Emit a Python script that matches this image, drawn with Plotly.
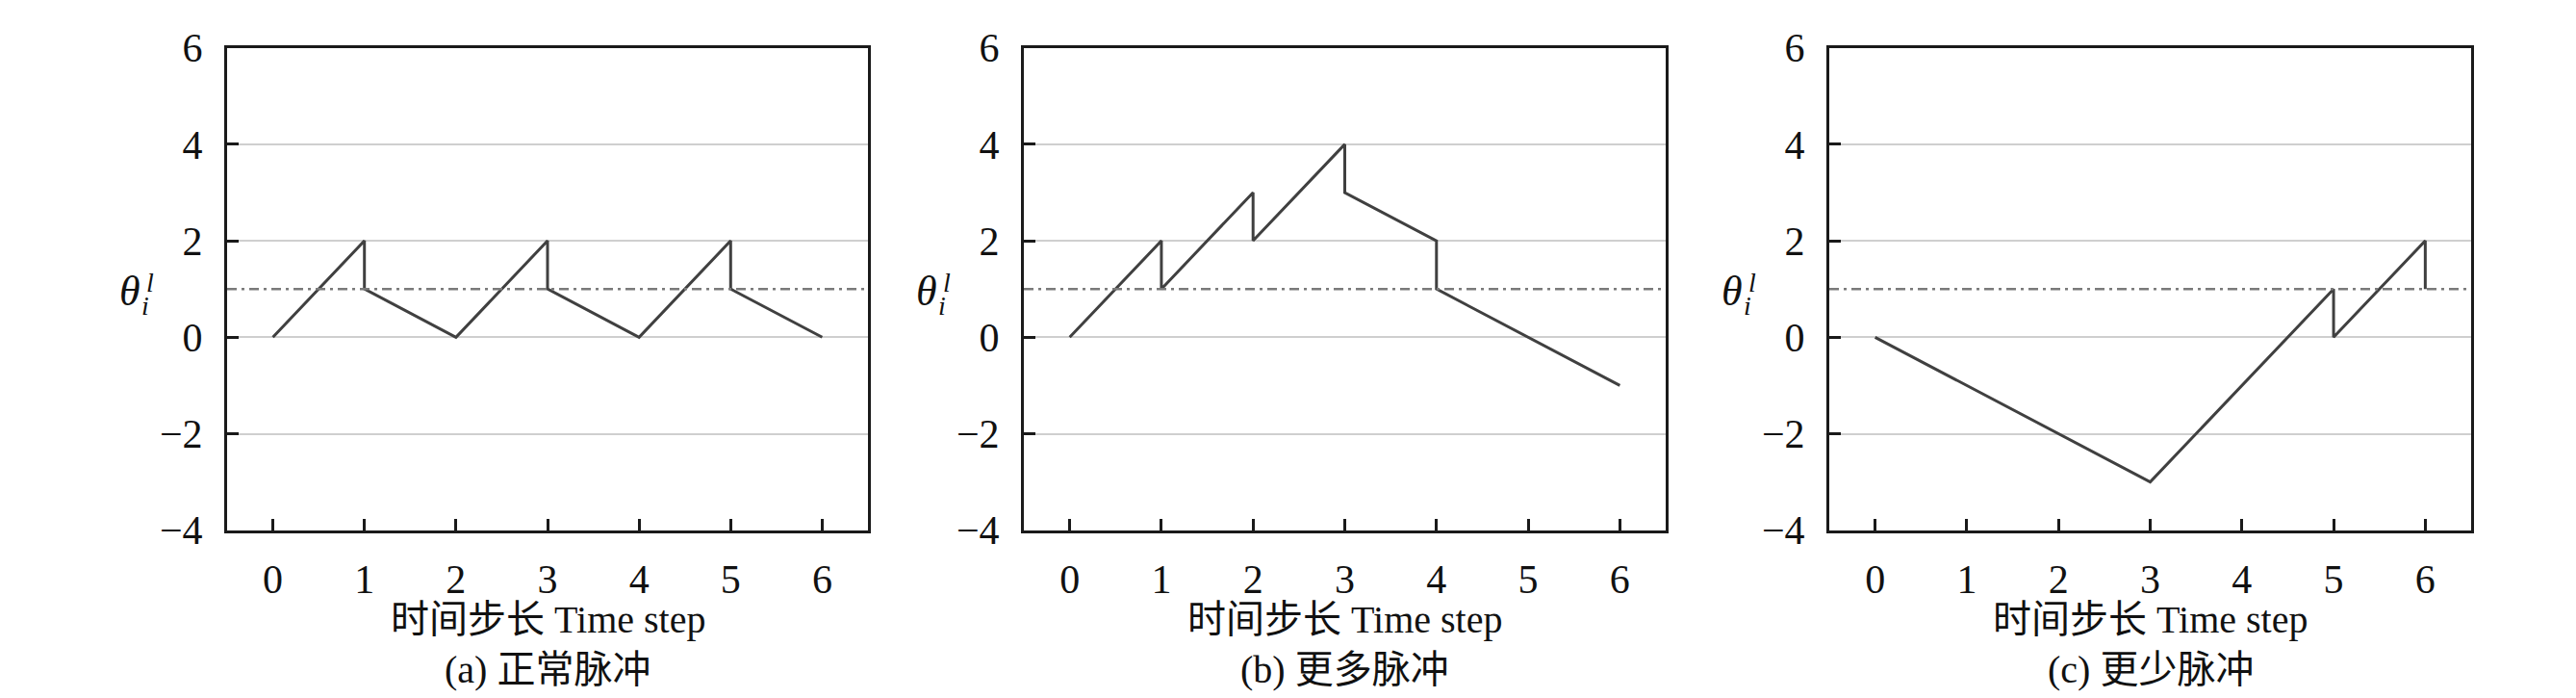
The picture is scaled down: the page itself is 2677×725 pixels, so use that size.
import plotly.graph_objects as go

# membrane potential traces
x_normal = [0, 1, 1, 2, 3, 3, 4, 5, 5, 6]
y_normal = [0, 2, 1, 0, 2, 1, 0, 2, 1, 0]

x_more = [0, 1, 1, 2, 2, 3, 3, 4, 4, 6]
y_more = [0, 2, 1, 3, 2, 4, 3, 2, 1, -1]

x_less = [0, 3, 5, 5, 6, 6]
y_less = [0, -3, 1, 0, 2, 1]

threshold = 1
x_ticks = [0, 1, 2, 3, 4, 5, 6]
y_ticks = [-4, -2, 0, 2, 4, 6]
captions = ["(a) 正常脉冲", "(b) 更多脉冲", "(c) 更少脉冲"]
x_title = "时间步长 Time step"

W, H = 2677, 725
panels_px = [(228, 894), (1056, 1723), (1893, 2560)]
top_px, bot_px = 21, 556

FONT = "Liberation Serif, Times New Roman, Noto Sans CJK SC"
TXT = "#111"

fig = go.Figure()
series = [(x_normal, y_normal), (x_more, y_more), (x_less, y_less)]

for i, (xs, ys) in enumerate(series):
    n = "" if i == 0 else str(i + 1)
    fig.add_trace(go.Scatter(x=xs, y=ys, mode="lines",
                             line=dict(color="#404040", width=3),
                             xaxis="x" + n, yaxis="y" + n, showlegend=False))

    l, r = panels_px[i]
    dom_x = [l / W, r / W]
    dom_y = [1 - bot_px / H, 1 - top_px / H]
    fig.layout["xaxis" + n] = dict(
        domain=dom_x, range=[-0.5, 6.5], tickvals=x_ticks, anchor="y" + n,
        showline=True, mirror=True, linecolor="#1a1a1a", linewidth=3,
        ticks="inside", ticklen=12, tickwidth=2.5, tickcolor="#1a1a1a",
        showgrid=False, zeroline=False, ticklabelstandoff=12,
        ticklabeloverflow="allow",
        tickfont=dict(family=FONT, size=42, color=TXT))
    fig.layout["yaxis" + n] = dict(
        domain=dom_y, range=[-4, 6], tickvals=y_ticks, anchor="x" + n,
        showline=True, mirror=True, linecolor="#1a1a1a", linewidth=3,
        ticks="inside", ticklen=12, tickwidth=2.5, tickcolor="#1a1a1a",
        showgrid=True, gridcolor="#cfcfcf", gridwidth=2, zeroline=False,
        ticklabelstandoff=14, ticklabeloverflow="allow",
        tickfont=dict(family=FONT, size=42, color=TXT))

    # threshold
    fig.add_shape(type="line", xref="x" + n + " domain", yref="y" + n,
                  x0=0, x1=1, y0=threshold, y1=threshold,
                  line=dict(color="#7a7a7a", width=2.5, dash="10px,5px,3px,5px"))

    # y label theta_i^l
    fig.add_annotation(text="<i>θ</i>", xref="x" + n + " domain", yref="y" + n,
                       x=0, y=threshold, xshift=-101, yshift=-2, showarrow=False,
                       xanchor="center", yanchor="middle",
                       font=dict(family=FONT, size=44, color=TXT))
    fig.add_annotation(text="<i>i</i>", xref="x" + n + " domain", yref="y" + n,
                       x=0, y=threshold, xshift=-85, yshift=-17, showarrow=False,
                       xanchor="center", yanchor="middle",
                       font=dict(family=FONT, size=28, color=TXT))
    fig.add_annotation(text="<i>l</i>", xref="x" + n + " domain", yref="y" + n,
                       x=0, y=threshold, xshift=-80, yshift=7, showarrow=False,
                       xanchor="center", yanchor="middle",
                       font=dict(family=FONT, size=28, color=TXT))

    cx = (l + r) / 2 / W
    fig.add_annotation(text=x_title, xref="paper", yref="paper",
                       x=cx, y=1 - 655 / H, showarrow=False,
                       xanchor="center", yanchor="middle", borderpad=0,
                       font=dict(family=FONT, size=40, color=TXT))
    fig.add_annotation(text=captions[i], xref="paper", yref="paper",
                       x=cx, y=1 - 711 / H, showarrow=False,
                       xanchor="center", yanchor="middle", borderpad=0,
                       font=dict(family=FONT, size=40, color=TXT))

fig.update_layout(width=W, height=H, margin=dict(l=0, r=0, t=0, b=0),
                  plot_bgcolor="white", paper_bgcolor="white")

fig.write_html("out.html")
